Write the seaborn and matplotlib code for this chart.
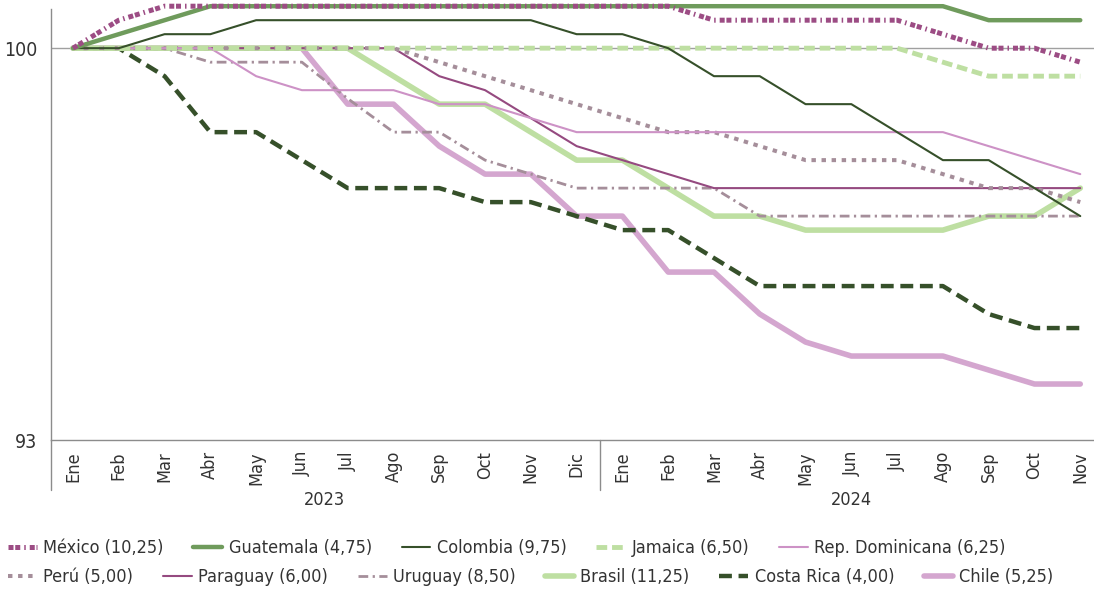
import matplotlib.pyplot as plt
import seaborn as sns
import pandas as pd
from matplotlib import font_manager

months_2023 = ["Ene", "Feb", "Mar", "Abr", "May", "Jun", "Jul", "Ago", "Sep", "Oct", "Nov", "Dic"]
months_2024 = ["Ene", "Feb", "Mar", "Abr", "May", "Jun", "Jul", "Ago", "Sep", "Oct", "Nov"]
month_labels = months_2023 + months_2024
years = ["2023", "2024"]

mexico = [100, 100.5, 100.75, 100.75, 100.75, 100.75, 100.75, 100.75, 100.75, 100.75, 100.75, 100.75,
          100.75, 100.75, 100.5, 100.5, 100.5, 100.5, 100.5, 100.25, 100, 100, 99.75]
guatemala = [100, 100.25, 100.5, 100.75, 100.75, 100.75, 100.75, 100.75, 100.75, 100.75, 100.75, 100.75,
             100.75, 100.75, 100.75, 100.75, 100.75, 100.75, 100.75, 100.75, 100.5, 100.5, 100.5]
colombia = [100, 100, 100.25, 100.25, 100.5, 100.5, 100.5, 100.5, 100.5, 100.5, 100.5, 100.25,
            100.25, 100, 99.5, 99.5, 99.0, 99.0, 98.5, 98.0, 98.0, 97.5, 97.0]
jamaica = [100, 100, 100, 100, 100, 100, 100, 100, 100, 100, 100, 100,
           100, 100, 100, 100, 100, 100, 100, 99.75, 99.5, 99.5, 99.5]
rep_dominicana = [100, 100, 100, 100, 99.5, 99.25, 99.25, 99.25, 99.0, 99.0, 98.75, 98.5,
                  98.5, 98.5, 98.5, 98.5, 98.5, 98.5, 98.5, 98.5, 98.25, 98.0, 97.75]
peru = [100, 100, 100, 100, 100, 100, 100, 100, 99.75, 99.5, 99.25, 99.0,
        98.75, 98.5, 98.5, 98.25, 98.0, 98.0, 98.0, 97.75, 97.5, 97.5, 97.25]
paraguay = [100, 100, 100, 100, 100, 100, 100, 100, 99.5, 99.25, 98.75, 98.25,
            98.0, 97.75, 97.5, 97.5, 97.5, 97.5, 97.5, 97.5, 97.5, 97.5, 97.5]
uruguay = [100, 100, 100, 99.75, 99.75, 99.75, 99.1, 98.5, 98.5, 98.0, 97.75, 97.5,
           97.5, 97.5, 97.5, 97.0, 97.0, 97.0, 97.0, 97.0, 97.0, 97.0, 97.0]
brasil = [100, 100, 100, 100, 100, 100, 100, 99.5, 99.0, 99.0, 98.5, 98.0,
          98.0, 97.5, 97.0, 97.0, 96.75, 96.75, 96.75, 96.75, 97.0, 97.0, 97.5]
costa_rica = [100, 100, 99.5, 98.5, 98.5, 98.0, 97.5, 97.5, 97.5, 97.25, 97.25, 97.0,
              96.75, 96.75, 96.25, 95.75, 95.75, 95.75, 95.75, 95.75, 95.25, 95.0, 95.0]
chile = [100, 100, 100, 100, 100, 100, 99.0, 99.0, 98.25, 97.75, 97.75, 97.0,
         97.0, 96.0, 96.0, 95.25, 94.75, 94.5, 94.5, 94.5, 94.25, 94.0, 94.0]

series = [
    ("México (10,25)", mexico, "#9C4C84", 3.6, (0, (1, 0.35, 1, 0.8, 0.3, 0.8))),
    ("Guatemala (4,75)", guatemala, "#6F9B5C", 3.2, "-"),
    ("Colombia (9,75)", colombia, "#36502A", 1.5, "-"),
    ("Jamaica (6,50)", jamaica, "#BEDFA2", 3.5, (0, (2.2, 1.0))),
    ("Rep. Dominicana (6,25)", rep_dominicana, "#CD92C6", 1.5, "-"),
    ("Perú (5,00)", peru, "#A58E9A", 2.9, (0, (1.1, 1.4))),
    ("Paraguay (6,00)", paraguay, "#954A80", 1.5, "-"),
    ("Uruguay (8,50)", uruguay, "#A58E9A", 2.0, (0, (3.5, 1.6, 0.8, 1.6))),
    ("Brasil (11,25)", brasil, "#BEDFA2", 4.0, "-"),
    ("Costa Rica (4,00)", costa_rica, "#36502A", 3.2, (0, (2.9, 1.5))),
    ("Chile (5,25)", chile, "#D4A6CF", 4.0, "-"),
]

sns.set_style("white")

# the original uses a condensed face; take one if the system has it
narrow = [f for f in font_manager.fontManager.ttflist
          if (f.stretch in ("condensed", "semi-condensed") or "Narrow" in f.name
              or "Condensed" in f.name) and f.weight in (400, "normal", "regular")
          and f.style == "normal"]
if narrow:
    plt.rcParams["font.family"] = [narrow[0].name, "DejaVu Sans"]
    plt.rcParams["font.stretch"] = narrow[0].stretch
else:
    plt.rcParams["font.family"] = ["Liberation Sans", "DejaVu Sans"]
text_color = "#333333"
axis_color = "#8C8C8C"
fs = 13

fig = plt.figure(figsize=(10.94, 5.89), dpi=100)
ax = fig.add_axes([51 / 1094, 149 / 589, 1 - 51 / 1094, 431 / 589])

ax.axhline(100, color="#A0A0A0", lw=1, zorder=1)

handles = []
n = len(series)
for i, (name, values, color, lw, ls) in enumerate(series):
    df = pd.DataFrame({"x": range(len(values)), "y": values})
    sns.lineplot(data=df, x="x", y="y", ax=ax, color=color, linewidth=lw,
                 linestyle=ls, zorder=10 + n - i, clip_on=False, label=name)
    handles.append(ax.lines[-1])
ax.get_legend().remove()

ax.set_xlim(-0.48, 22.30)
ax.set_ylim(93, 100.7)
ax.set_xlabel("")
ax.set_ylabel("")

for side in ["top", "right"]:
    ax.spines[side].set_visible(False)
for side in ["left", "bottom"]:
    ax.spines[side].set_color(axis_color)
    ax.spines[side].set_linewidth(1)

ax.set_yticks([93, 100, 100.7])
ax.set_yticklabels(["93", "100", ""])
ax.tick_params(axis="y", length=7, width=1, color=axis_color, labelsize=fs + 1,
               labelcolor=text_color, pad=3)

ax.set_xticks(range(len(month_labels)))
ax.set_xticklabels(month_labels, rotation=90)
ax.set_xticks([k + 0.5 for k in range(len(month_labels) - 1)], minor=True)
ax.tick_params(axis="x", which="major", length=0, labelsize=fs,
               labelcolor=text_color, pad=8)
ax.tick_params(axis="x", which="minor", length=8, width=1, color=axis_color)

trans = ax.get_xaxis_transform()
ax.plot([11.5, 11.5], [0, -0.116], transform=trans, color=axis_color, lw=1, clip_on=False)
ax.plot([0, 0], [0, -0.116], transform=ax.transAxes, color=axis_color, lw=1, clip_on=False)
ax.text(5.5, -0.139, years[0], transform=trans, ha="center", va="center",
        fontsize=fs, color=text_color)
ax.text(17, -0.139, years[1], transform=trans, ha="center", va="center",
        fontsize=fs, color=text_color)

leg_kw = dict(frameon=False, fontsize=fs, handlelength=1.6, handletextpad=0.35,
              columnspacing=1.65, borderaxespad=0, borderpad=0, loc="center left",
              labelcolor=text_color)
leg1 = fig.legend(handles=handles[:5], ncol=5,
                  bbox_to_anchor=(8 / 1094, 0.0696), **leg_kw)
leg2 = fig.legend(handles=handles[5:], ncol=6,
                  bbox_to_anchor=(8 / 1094, 0.0204), **leg_kw)

fig.savefig("out.png", dpi=100)
